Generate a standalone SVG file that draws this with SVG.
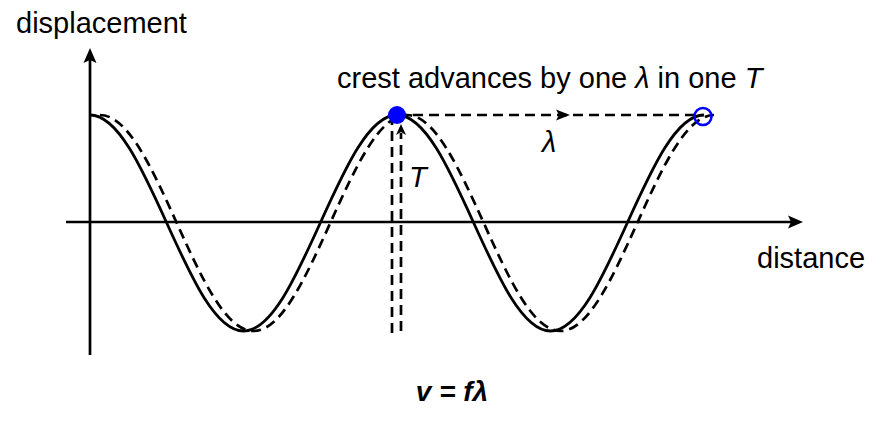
<svg xmlns="http://www.w3.org/2000/svg" width="880" height="422" viewBox="0 0 880 422">
<style>
  .ax{stroke:#000;stroke-width:2.7;fill:none}
  .wave{stroke:#000;stroke-width:2.8;fill:none}
  .dash{stroke:#000;stroke-width:2.7;fill:none;stroke-dasharray:10 6}
  .head{fill:#000;stroke:none}
  .t{font-family:"Liberation Sans",Arial,sans-serif;font-size:29px;fill:#000}
  .i{font-style:italic}
  .b{font-weight:bold;font-style:italic;font-size:28px}
</style>
<rect width="880" height="422" fill="#fff"/>
<g id="axes">
  <line class="ax" x1="90" y1="355" x2="90" y2="60"/>
  <path class="head" d="M90,48 L96.5,63 L90,60 L83.5,63 Z"/>
  <line class="ax" x1="66" y1="222" x2="791" y2="222"/>
  <path class="head" d="M803,222 L788,215.5 L791,222 L788,228.5 Z"/>
</g>
<g id="waves">
  <path id="wave-solid" class="wave" d="M90,115 c27.78,0 51.72,52.7 76.75,108 c25.03,55.3 48.97,108 76.75,108 c27.78,0 51.72,-52.7 76.75,-108 c25.03,-55.3 48.97,-108 76.75,-108 c27.78,0 51.72,52.7 76.75,108 c25.03,55.3 48.97,108 76.75,108 c27.78,0 51.72,-52.7 76.75,-108 c25.03,-55.3 48.97,-108 76.75,-108"/>
  <path id="wave-dashed" class="dash" d="M100,115 c27.78,0 51.72,52.7 76.75,108 c25.03,55.3 48.97,108 76.75,108 c27.78,0 51.72,-52.7 76.75,-108 c25.03,-55.3 48.97,-108 76.75,-108 c27.78,0 51.72,52.7 76.75,108 c25.03,55.3 48.97,108 76.75,108 c27.78,0 51.72,-52.7 76.75,-108 c25.03,-55.3 48.97,-108 76.75,-108"/>
</g>
<g id="connectors">
  <line class="dash" x1="392" y1="333" x2="392" y2="120"/>
  <line class="dash" x1="401" y1="331" x2="401" y2="133"/>
  <path class="head" d="M401,124 L406,135 L401,132 L396,135 Z"/>
  <line class="dash" x1="397" y1="115" x2="694" y2="115"/>
  <path class="head" d="M570,115 L556,109.5 L559,115 L556,120.5 Z"/>
</g>
<g id="crest-start">
  <circle cx="397" cy="115" r="9" fill="#0000ff"/>
</g>
<g id="crest-end">
  <circle cx="703" cy="116.5" r="8.5" fill="none" stroke="#0000ff" stroke-width="2.5"/>
</g>
<g id="labels">
  <text class="t" x="16" y="33">displacement</text>
  <text class="t" x="337" y="88">crest advances by one <tspan class="i">λ</tspan> in one <tspan class="i">T</tspan></text>
  <text class="t" x="757" y="268">distance</text>
  <text class="t i" x="542" y="152">λ</text>
  <text class="t i" x="409" y="187">T</text>
  <text class="t b" x="452" y="401" text-anchor="middle">v = fλ</text>
</g>
</svg>
